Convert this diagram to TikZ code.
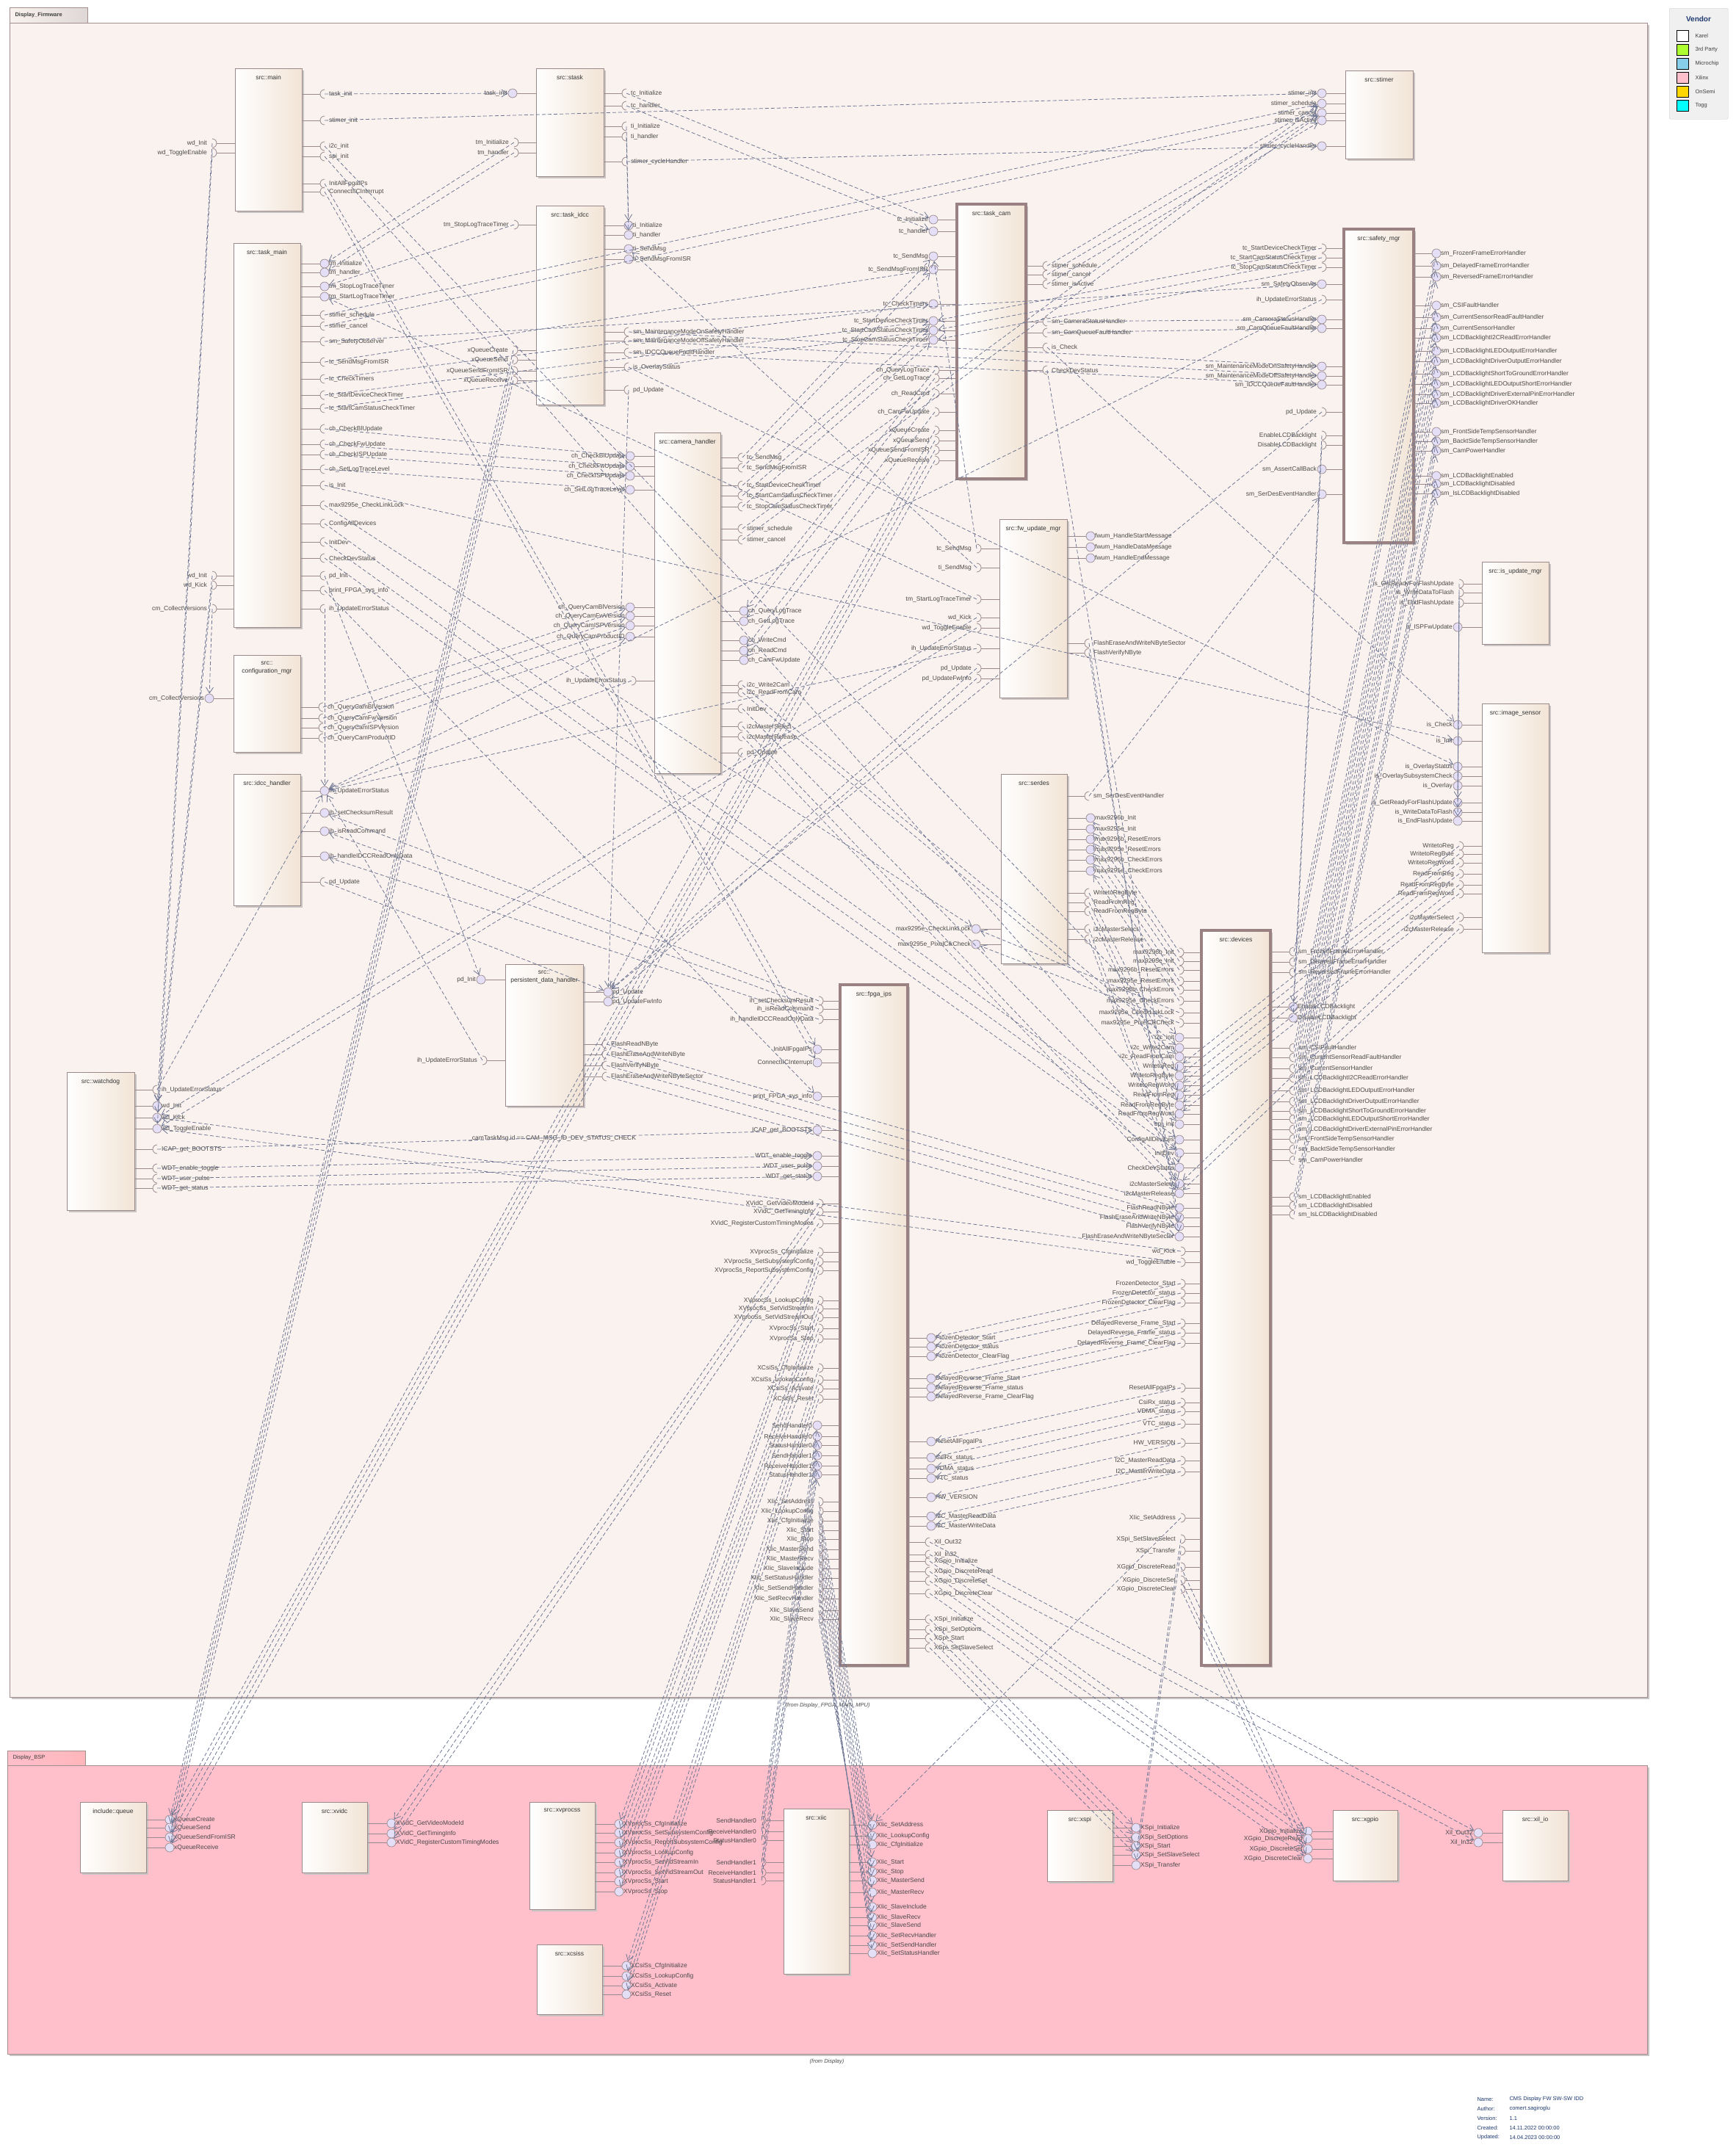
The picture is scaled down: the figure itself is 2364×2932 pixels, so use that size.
\documentclass[tikz,border=0pt]{standalone}
\usepackage{fontspec}
\setmainfont{Liberation Sans}
\usetikzlibrary{arrows.meta,calc}
\definecolor{cbord}{HTML}{9C8A8A}
\definecolor{cthick}{HTML}{9A8282}
\definecolor{cbeige}{HTML}{F2E4D6}
\definecolor{cprov}{HTML}{E4DFF6}
\definecolor{cport}{HTML}{9A8A8E}
\definecolor{cconn}{HTML}{6F7794}
\definecolor{ctext}{HTML}{4A4A4A}
\definecolor{fwbg}{HTML}{FAF2EE}
\definecolor{bspbg}{HTML}{FFBFCB}
\definecolor{pkgb}{HTML}{A38E8E}
\definecolor{shadowc}{HTML}{C8C4C4}
\definecolor{infoc}{HTML}{1F3A70}
\tikzset{
 comp/.style={draw=cbord, line width=0.8pt, left color=white, right color=cbeige, outer sep=0pt, inner sep=0pt},
 compthick/.style={comp, draw=cthick, line width=4.5pt},
 ctitle/.style={font=\fontsize{8.5}{11}\selectfont, text=black!80, anchor=north, align=center, inner sep=0pt},
 prov/.style={circle, draw=cport, fill=cprov, minimum size=12pt, inner sep=0pt, line width=0.7pt},
 pline/.style={draw=cport, line width=0.7pt},
 sock/.style={draw=cport, line width=0.8pt},
 lab/.style={font=\fontsize{8.5}{10}\selectfont, text=ctext, inner sep=0pt},
 conn/.style={draw=cconn, line width=0.8pt, dash pattern=on 5pt off 3pt, -{Straight Barb[length=8pt,width=10pt]}},
}
\makeatletter
\newcommand\conns{}
\newcommand\Pt[4]{%
  \ifdim #3pt>#2pt
    \draw[pline] (#2,#4) -- (#3-6,#4);
    \node[prov] (P-#1) at (#3,#4) {};
    \node[lab,anchor=west] (L-P-#1) at (#3+6,#4) {\detokenize{#1}};
  \else
    \draw[pline] (#3+6,#4) -- (#2,#4);
    \node[prov] (P-#1) at (#3,#4) {};
    \node[lab,anchor=east] (L-P-#1) at (#3-7,#4) {\detokenize{#1}};
  \fi}
\newcommand\Rq[5]{%
  \ifdim #4pt>#3pt
    \draw[pline] (#3,#5) -- (#4-6,#5);
    \draw[sock] (#4,#5-6) arc[start angle=90,end angle=270,radius=6pt];
    \coordinate (#1-#2) at (#4,#5);
    \node[lab,anchor=west] (L-#1-#2) at (#4+6,#5) {\detokenize{#2}};
  \else
    \draw[pline] (#4+6,#5) -- (#3,#5);
    \draw[sock] (#4,#5-6) arc[start angle=90,end angle=-90,radius=6pt];
    \coordinate (#1-#2) at (#4,#5);
    \node[lab,anchor=east] (L-#1-#2) at (#4-7,#5) {\detokenize{#2}};
  \fi
  \xdef\conns{\unexpanded\expandafter{\conns}\noexpand\Cn{#1-#2}{#2}}}
\newcommand\Cn[2]{\ifcsname pgf@sh@ns@P-#2\endcsname \draw[conn] (#1) -- (P-#2);\fi}
\makeatother
\newcommand\Comp[7]{%
  \fill[shadowc] (#3+3,#4+3) rectangle (#5+3,#6+3);
  \pgfmathsetmacro\cmpw{#5-#3}\pgfmathsetmacro\cmph{#6-#4}%
  \node[#1, minimum width=\cmpw pt, minimum height=\cmph pt, anchor=north west] (#2) at (#3,#4) {};
  \node[ctitle] (#2-t) at ({(#3+#5)/2},#4+9) {#7};}
\begin{document}
\begin{tikzpicture}[x=1pt,y=-1pt]
\useasboundingbox (0,0) rectangle (2364,2932);
\fill[white] (0,0) rectangle (2364,2932);
% ---------- packages
\fill[shadowc] (16,34) rectangle (2246,2314);
\node[draw=pkgb, left color=fwbg, right color=pkgb!35, minimum width=106pt, minimum height=21pt, anchor=north west, outer sep=0pt] (fwtab) at (13,10) {};
\node[font=\bfseries\fontsize{7.5}{9}\selectfont, text=black!75, anchor=west] (fwtabt) at (17,20.5) {Display\_Firmware};
\node[draw=pkgb, fill=fwbg, minimum width=2230pt, minimum height=2280pt, anchor=north west, outer sep=0pt] (fw) at (13,31) {};
\node[font=\itshape\fontsize{7.5}{9}\selectfont, text=black!70] (fwfrom) at (1127,2323) {(from Display\_FPGA\_MAIN\_MPU)};
\fill[shadowc] (13,2407) rectangle (2246,2800);
\node[draw=pkgb, left color=bspbg, right color=bspbg!70!red!60, minimum width=106pt, minimum height=20pt, anchor=north west, outer sep=0pt] (bsptab) at (10,2384) {};
\node[font=\fontsize{7.5}{9}\selectfont, text=black!75, anchor=west] (bsptabt) at (14,2394) {Display\_BSP};
\node[draw=pkgb, fill=bspbg, minimum width=2233pt, minimum height=393pt, anchor=north west, outer sep=0pt] (bsp) at (10,2404) {};
\node[font=\itshape\fontsize{7.5}{9}\selectfont, text=black!70] (bspfrom) at (1126,2808) {(from Display)};
% ---------- legend
\node[draw=black!20, fill=black!6, rounded corners=2pt, minimum width=80pt, minimum height=151pt, anchor=north west] (legend) at (2273,11) {};
\node[font=\bfseries\fontsize{10}{12}\selectfont, text=infoc] (legt) at (2313,26) {Vendor};
\foreach \c/\t [count=\i] in {white/Karel, {rgb,255:red,173;green,255;blue,47}/3rd Party, {rgb,255:red,135;green,206;blue,235}/Microchip, {rgb,255:red,255;green,192;blue,203}/Xilinx, {rgb,255:red,255;green,215;blue,0}/OnSemi, {rgb,255:red,0;green,255;blue,255}/Togg}{
  \node[draw=black, fill={\c}, minimum width=16pt, minimum height=15pt, inner sep=0pt] (lk\i) at (2291,30+19*\i) {};
  \node[font=\fontsize{7.5}{9}\selectfont, text=black!75, anchor=west] (lt\i) at (2305,30+19*\i) {\t};
}
% ---------- info
\foreach \k/\v [count=\i] in {Name:/CMS Display FW SW-SW IDD, Author:/comert.sagiroglu, Version:/1.1, Created:/14.11.2022 00:00:00, Updated:/14.04.2023 00:00:00}{
  \node[font=\fontsize{7.5}{9}\selectfont, text=infoc, anchor=west] (ik\i) at (2008,2846+13*\i) {\k};
  \node[font=\fontsize{7.5}{9}\selectfont, text=infoc, anchor=west] (iv\i) at (2052,2846+13*\i) {\v};
}
% ---------- components
\Comp{comp}{main}{320}{93}{411}{287}{src::main}
\Comp{comp}{tmain}{318}{331}{409}{854}{src::task\_main}
\Comp{comp}{stask}{730}{93}{822}{240}{src::stask}
\Comp{comp}{tidcc}{730}{280}{822}{551}{src::task\_idcc}
\Comp{comp}{camh}{891}{589}{981}{1053}{src::camera\_handler}
\Comp{compthick}{tcam}{1303}{278}{1397}{652}{src::task\_cam}
\Comp{comp}{stimer}{1832}{96}{1924}{216}{src::stimer}
\Comp{compthick}{safety}{1830}{312}{1925}{739}{src::safety\_mgr}
\Comp{comp}{isu}{2018}{765}{2109}{877}{src::is\_update\_mgr}
\Comp{comp}{isen}{2018}{958}{2109}{1297}{src::image\_sensor}
\Comp{comp}{fwum}{1361}{707}{1453}{950}{src::fw\_update\_mgr}
\Comp{comp}{cfg}{318}{892}{409}{1024}{src::\\configuration\_mgr}
\Comp{comp}{idcch}{318}{1054}{409}{1233}{src::idcc\_handler}
\Comp{comp}{pdh}{688}{1313}{794}{1506}{src::\\persistent\_data\_handler}
\Comp{comp}{wdog}{91}{1460}{183}{1648}{src::watchdog}
\Comp{comp}{serdes}{1363}{1054}{1453}{1312}{src::serdes}
\Comp{compthick}{dev}{1636}{1267}{1730}{2268}{src::devices}
\Comp{compthick}{fpga}{1144}{1341}{1236}{2268}{src::fpga\_ips}
\Comp{comp}{queue}{109}{2454}{199}{2550}{include::queue}
\Comp{comp}{xvidc}{411}{2454}{500}{2550}{src::xvidc}
\Comp{comp}{xvprocss}{721}{2454}{810}{2600}{src::xvprocss}
\Comp{comp}{xcsiss}{731}{2648}{820}{2743}{src::xcsiss}
\Comp{comp}{xiic}{1067}{2463}{1156}{2688}{src::xiic}
\Comp{comp}{xspi}{1426}{2465}{1515}{2562}{src::xspi}
\Comp{comp}{xgpio}{1815}{2465}{1903}{2561}{src::xgpio}
\Comp{comp}{xilio}{2046}{2465}{2135}{2561}{src::xil\_io}
% ---------- ports: main
\Rq{main}{task_init}{411}{442}{128}
\Rq{main}{stimer_init}{411}{442}{164}
\Rq{main}{i2c_init}{411}{442}{199}
\Rq{main}{spi_init}{411}{442}{213}
\Rq{main}{InitAllFpgaIPs}{411}{442}{250}
\Rq{main}{ConnectIICInterrupt}{411}{442}{261}
\Rq{main}{wd_Init}{320}{289}{195}
\Rq{main}{wd_ToggleEnable}{320}{289}{208}
% task_main
\Pt{tm_Initialize}{409}{442}{359}
\Pt{tm_handler}{409}{442}{371}
\Pt{tm_StopLogTraceTimer}{409}{442}{390}
\Pt{tm_StartLogTraceTimer}{409}{442}{404}
\Rq{tmain}{stimer_schedule}{409}{442}{429}
\Rq{tmain}{stimer_cancel}{409}{442}{444}
\Rq{tmain}{sm_SafetyObserver}{409}{442}{465}
\Rq{tmain}{tc_SendMsgFromISR}{409}{442}{493}
\Rq{tmain}{tc_CheckTimers}{409}{442}{516}
\Rq{tmain}{tc_StartDeviceCheckTimer}{409}{442}{538}
\Rq{tmain}{tc_StartCamStatusCheckTimer}{409}{442}{556}
\Rq{tmain}{ch_CheckBlUpdate}{409}{442}{584}
\Rq{tmain}{ch_CheckFwUpdate}{409}{442}{605}
\Rq{tmain}{ch_CheckISPUpdate}{409}{442}{619}
\Rq{tmain}{ch_SetLogTraceLevel}{409}{442}{639}
\Rq{tmain}{is_Init}{409}{442}{661}
\Rq{tmain}{max9295e_CheckLinkLock}{409}{442}{688}
\Rq{tmain}{ConfigAllDevices}{409}{442}{713}
\Rq{tmain}{InitDev}{409}{442}{738}
\Rq{tmain}{CheckDevStatus}{409}{442}{760}
\Rq{tmain}{pd_Init}{409}{442}{784}
\Rq{tmain}{print_FPGA_sys_info}{409}{442}{804}
\Rq{tmain}{ih_UpdateErrorStatus}{409}{442}{829}
\Rq{tmain}{wd_Init}{318}{289}{784}
\Rq{tmain}{wd_Kick}{318}{289}{797}
\Rq{tmain}{cm_CollectVersions}{318}{289}{829}
% stask
\Pt{task_init}{730}{698}{127}
\Rq{stask}{tm_Initialize}{730}{700}{194}
\Rq{stask}{tm_handler}{730}{700}{208}
\Rq{stask}{tc_Initialize}{822}{853}{127}
\Rq{stask}{tc_handler}{822}{853}{144}
\Rq{stask}{ti_Initialize}{822}{853}{172}
\Rq{stask}{ti_handler}{822}{853}{186}
\Rq{stask}{stimer_cycleHandler}{822}{853}{220}
% task_idcc
\Rq{tidcc}{tm_StopLogTraceTimer}{730}{700}{306}
\Rq{tidcc}{xQueueCreate}{730}{699}{477}
\Rq{tidcc}{xQueueSend}{730}{699}{490}
\Rq{tidcc}{xQueueSendFromISR}{730}{699}{505}
\Rq{tidcc}{xQueueReceive}{730}{699}{518}
\Pt{ti_Initialize}{822}{856}{307}
\Pt{ti_handler}{822}{856}{320}
\Pt{ti_SendMsg}{822}{856}{339}
\Pt{ti_SendMsgFromISR}{822}{856}{353}
\Rq{tidcc}{sm_MaintenanceModeOnSafetyHandler}{822}{856}{452}
\Rq{tidcc}{sm_MaintenanceModeOffSafetyHandler}{822}{856}{464}
\Rq{tidcc}{sm_IDCCQueueFaultHandler}{822}{856}{480}
\Rq{tidcc}{is_OverlayStatus}{822}{856}{500}
\Rq{tidcc}{pd_Update}{822}{856}{531}
% camera_handler
\Pt{ch_CheckBlUpdate}{891}{858}{621}
\Pt{ch_CheckFwUpdate}{891}{858}{635}
\Pt{ch_CheckISPUpdate}{891}{858}{648}
\Pt{ch_SetLogTraceLevel}{891}{858}{667}
\Pt{ch_QueryCamBlVersion}{891}{858}{827}
\Pt{ch_QueryCamFwVersion}{891}{858}{839}
\Pt{ch_QueryCamISPVersion}{891}{858}{852}
\Pt{ch_QueryCamProductID}{891}{858}{867}
\Rq{camh}{ih_UpdateErrorStatus}{891}{860}{927}
\Rq{camh}{tc_SendMsg}{981}{1011}{623}
\Rq{camh}{tc_SendMsgFromISR}{981}{1011}{637}
\Rq{camh}{tc_StartDeviceCheckTimer}{981}{1011}{661}
\Rq{camh}{tc_StartCamStatusCheckTimer}{981}{1011}{675}
\Rq{camh}{tc_StopCamStatusCheckTimer}{981}{1011}{690}
\Rq{camh}{stimer_schedule}{981}{1011}{720}
\Rq{camh}{stimer_cancel}{981}{1011}{735}
\Pt{ch_QueryLogTrace}{981}{1013}{832}
\Pt{ch_GetLogTrace}{981}{1013}{846}
\Pt{ch_WriteCmd}{981}{1013}{872}
\Pt{ch_ReadCmd}{981}{1013}{886}
\Pt{ch_CamFwUpdate}{981}{1013}{899}
\Rq{camh}{i2c_Write2Cam}{981}{1011}{933}
\Rq{camh}{i2c_ReadFromCam}{981}{1011}{943}
\Rq{camh}{InitDev}{981}{1011}{965}
\Rq{camh}{i2cMasterSelect}{981}{1011}{989}
\Rq{camh}{i2cMasterRelease}{981}{1011}{1003}
\Rq{camh}{pd_Update}{981}{1011}{1025}
% task_cam
\Pt{tc_Initialize}{1303}{1271}{299}
\Pt{tc_handler}{1303}{1271}{315}
\Pt{tc_SendMsg}{1303}{1271}{349}
\Pt{tc_SendMsgFromISR}{1303}{1271}{367}
\Pt{tc_CheckTimers}{1303}{1271}{414}
\Pt{tc_StartDeviceCheckTimer}{1303}{1271}{437}
\Pt{tc_StartCamStatusCheckTimer}{1303}{1271}{450}
\Pt{tc_StopCamStatusCheckTimer}{1303}{1271}{463}
\Rq{tcam}{ch_QueryLogTrace}{1303}{1273}{504}
\Rq{tcam}{ch_GetLogTrace}{1303}{1273}{515}
\Rq{tcam}{ch_ReadCmd}{1303}{1273}{536}
\Rq{tcam}{ch_CamFwUpdate}{1303}{1273}{561}
\Rq{tcam}{xQueueCreate}{1303}{1273}{586}
\Rq{tcam}{xQueueSend}{1303}{1273}{600}
\Rq{tcam}{xQueueSendFromISR}{1303}{1273}{613}
\Rq{tcam}{xQueueReceive}{1303}{1273}{627}
\Rq{tcam}{stimer_schedule}{1397}{1426}{362}
\Rq{tcam}{stimer_cancel}{1397}{1426}{374}
\Rq{tcam}{stimer_isActive}{1397}{1426}{387}
\Rq{tcam}{sm_CameraStatusHandler}{1397}{1426}{438}
\Rq{tcam}{sm_CamQueueFaultHandler}{1397}{1426}{453}
\Rq{tcam}{is_Check}{1397}{1426}{473}
\Rq{tcam}{CheckDevStatus}{1397}{1426}{504}
% stimer
\Pt{stimer_init}{1832}{1800}{127}
\Pt{stimer_schedule}{1832}{1800}{141}
\Pt{stimer_cancel}{1832}{1800}{154}
\Pt{stimer_isActive}{1832}{1800}{164}
\Pt{stimer_cycleHandler}{1832}{1800}{199}
% safety_mgr
\Rq{safety}{tc_StartDeviceCheckTimer}{1830}{1800}{338}
\Rq{safety}{tc_StartCamStatusCheckTimer}{1830}{1800}{351}
\Rq{safety}{tc_StopCamStatusCheckTimer}{1830}{1800}{364}
\Pt{sm_SafetyObserver}{1830}{1800}{387}
\Rq{safety}{ih_UpdateErrorStatus}{1830}{1800}{408}
\Pt{sm_CameraStatusHandler}{1830}{1800}{435}
\Pt{sm_CamQueueFaultHandler}{1830}{1800}{447}
\Pt{sm_MaintenanceModeOnSafetyHandler}{1830}{1800}{499}
\Pt{sm_MaintenanceModeOffSafetyHandler}{1830}{1800}{512}
\Pt{sm_IDCCQueueFaultHandler}{1830}{1800}{524}
\Rq{safety}{pd_Update}{1830}{1800}{561}
\Rq{safety}{EnableLCDBacklight}{1830}{1800}{593}
\Rq{safety}{DisableLCDBacklight}{1830}{1800}{606}
\Pt{sm_AssertCallBack}{1830}{1800}{639}
\Pt{sm_SerDesEventHandler}{1830}{1800}{673}
\Pt{sm_FrozenFrameErrorHandler}{1925}{1956}{345}
\Pt{sm_DelayedFrameErrorHandler}{1925}{1956}{362}
\Pt{sm_ReversedFrameErrorHandler}{1925}{1956}{377}
\Pt{sm_CSIFaultHandler}{1925}{1956}{416}
\Pt{sm_CurrentSensorReadFaultHandler}{1925}{1956}{432}
\Pt{sm_CurrentSensorHandler}{1925}{1956}{447}
\Pt{sm_LCDBacklightI2CReadErrorHandler}{1925}{1956}{460}
\Pt{sm_LCDBacklightLEDOutputErrorHandler}{1925}{1956}{478}
\Pt{sm_LCDBacklightDriverOutputErrorHandler}{1925}{1956}{492}
\Pt{sm_LCDBacklightShortToGroundErrorHandler}{1925}{1956}{509}
\Pt{sm_LCDBacklightLEDOutputShortErrorHandler}{1925}{1956}{523}
\Pt{sm_LCDBacklightDriverExternalPinErrorHandler}{1925}{1956}{537}
\Pt{sm_LCDBacklightDriverOKHandler}{1925}{1956}{549}
\Pt{sm_FrontSideTempSensorHandler}{1925}{1956}{588}
\Pt{sm_BacktSideTempSensorHandler}{1925}{1956}{601}
\Pt{sm_CamPowerHandler}{1925}{1956}{614}
\Pt{sm_LCDBacklightEnabled}{1925}{1956}{648}
\Pt{sm_LCDBacklightDisabled}{1925}{1956}{659}
\Pt{sm_IsLCDBacklightDisabled}{1925}{1956}{672}
% is_update_mgr
\Rq{isu}{is_GetReadyForFlashUpdate}{2018}{1987}{795}
\Rq{isu}{is_WriteDataToFlash}{2018}{1987}{807}
\Rq{isu}{is_EndFlashUpdate}{2018}{1987}{821}
\Pt{is_ISPFwUpdate}{2018}{1985}{854}
% image_sensor
\Pt{is_Check}{2018}{1985}{987}
\Pt{is_Init}{2018}{1985}{1009}
\Pt{is_OverlayStatus}{2018}{1985}{1044}
\Pt{is_OverlaySubsystemCheck}{2018}{1985}{1057}
\Pt{is_Overlay}{2018}{1985}{1070}
\Pt{is_GetReadyForFlashUpdate}{2018}{1985}{1093}
\Pt{is_WriteDataToFlash}{2018}{1985}{1106}
\Pt{is_EndFlashUpdate}{2018}{1985}{1118}
\Rq{isen}{WritetoReg}{2018}{1987}{1152}
\Rq{isen}{WritetoRegByte}{2018}{1987}{1163}
\Rq{isen}{WritetoRegWord}{2018}{1987}{1175}
\Rq{isen}{ReadFromReg}{2018}{1987}{1190}
\Rq{isen}{ReadFromRegByte}{2018}{1987}{1205}
\Rq{isen}{ReadFromRegWord}{2018}{1987}{1217}
\Rq{isen}{i2cMasterSelect}{2018}{1987}{1249}
\Rq{isen}{i2cMasterRelease}{2018}{1987}{1265}
% fw_update_mgr
\Rq{fwum}{tc_SendMsg}{1361}{1330}{747}
\Rq{fwum}{ti_SendMsg}{1361}{1330}{773}
\Rq{fwum}{tm_StartLogTraceTimer}{1361}{1330}{816}
\Rq{fwum}{wd_Kick}{1361}{1330}{841}
\Rq{fwum}{wd_ToggleEnable}{1361}{1330}{855}
\Rq{fwum}{ih_UpdateErrorStatus}{1361}{1330}{883}
\Rq{fwum}{pd_Update}{1361}{1330}{910}
\Rq{fwum}{pd_UpdateFwInfo}{1361}{1330}{924}
\Pt{fwum_HandleStartMessage}{1453}{1485}{730}
\Pt{fwum_HandleDataMessage}{1453}{1485}{745}
\Pt{fwum_HandleEndMessage}{1453}{1485}{760}
\Rq{fwum}{FlashEraseAndWriteNByteSector}{1453}{1483}{876}
\Rq{fwum}{FlashVerifyNByte}{1453}{1483}{889}
% configuration_mgr
\Pt{cm_CollectVersions}{318}{285}{951}
\Rq{cfg}{ch_QueryCamBlVersion}{409}{440}{963}
\Rq{cfg}{ch_QueryCamFwVersion}{409}{440}{978}
\Rq{cfg}{ch_QueryCamISPVersion}{409}{440}{991}
\Rq{cfg}{ch_QueryCamProductID}{409}{440}{1005}
% idcc_handler
\Pt{ih_UpdateErrorStatus}{409}{442}{1077}
\Pt{ih_setChecksumResult}{409}{442}{1107}
\Pt{ih_isReadCommand}{409}{442}{1132}
\Pt{ih_handleIDCCReadOnlyData}{409}{442}{1166}
\Rq{idcch}{pd_Update}{409}{442}{1201}
% persistent_data_handler
\Pt{pd_Init}{688}{655}{1334}
\Rq{pdh}{ih_UpdateErrorStatus}{688}{657}{1444}
\Pt{pd_Update}{794}{828}{1351}
\Pt{pd_UpdateFwInfo}{794}{828}{1364}
\Rq{pdh}{FlashReadNByte}{794}{826}{1422}
\Rq{pdh}{FlashEraseAndWriteNByte}{794}{826}{1436}
\Rq{pdh}{FlashVerifyNByte}{794}{826}{1451}
\Rq{pdh}{FlashEraseAndWriteNByteSector}{794}{826}{1466}
% watchdog
\Rq{wdog}{ih_UpdateErrorStatus}{183}{214}{1484}
\Pt{wd_Init}{183}{214}{1506}
\Pt{wd_Kick}{183}{214}{1522}
\Pt{wd_ToggleEnable}{183}{214}{1537}
\Rq{wdog}{ICAP_get_BOOTSTS}{183}{214}{1565}
\Rq{wdog}{WDT_enable_toggle}{183}{214}{1591}
\Rq{wdog}{WDT_user_pulse}{183}{214}{1605}
\Rq{wdog}{WDT_get_status}{183}{214}{1618}
% serdes
\Pt{max9295e_CheckLinkLock}{1363}{1329}{1265}
\Pt{max9295e_PixelClkCheck}{1363}{1329}{1286}
\Rq{serdes}{sm_SerDesEventHandler}{1453}{1483}{1084}
\Pt{max9296b_Init}{1453}{1485}{1114}
\Pt{max9295e_Init}{1453}{1485}{1129}
\Pt{max9296b_ResetErrors}{1453}{1485}{1143}
\Pt{max9295e_ResetErrors}{1453}{1485}{1157}
\Pt{max9296b_CheckErrors}{1453}{1485}{1171}
\Pt{max9295e_CheckErrors}{1453}{1485}{1186}
\Rq{serdes}{WritetoRegByte}{1453}{1483}{1216}
\Rq{serdes}{ReadFromReg}{1453}{1483}{1229}
\Rq{serdes}{ReadFromRegByte}{1453}{1483}{1241}
\Rq{serdes}{i2cMasterSelect}{1453}{1483}{1265}
\Rq{serdes}{i2cMasterRelease}{1453}{1483}{1279}
% devices
\Rq{dev}{max9296b_Init}{1636}{1606}{1297}
\Rq{dev}{max9295e_Init}{1636}{1606}{1309}
\Rq{dev}{max9296b_ResetErrors}{1636}{1606}{1321}
\Rq{dev}{max9295e_ResetErrors}{1636}{1606}{1336}
\Rq{dev}{max9296b_CheckErrors}{1636}{1606}{1348}
\Rq{dev}{max9295e_CheckErrors}{1636}{1606}{1363}
\Rq{dev}{max9295e_CheckLinkLock}{1636}{1606}{1379}
\Rq{dev}{max9295e_PixelClkCheck}{1636}{1606}{1393}
\Pt{i2c_init}{1636}{1606}{1413}
\Pt{i2c_Write2Cam}{1636}{1606}{1427}
\Pt{i2c_ReadFromCam}{1636}{1606}{1439}
\Pt{WritetoReg}{1636}{1606}{1452}
\Pt{WritetoRegByte}{1636}{1606}{1465}
\Pt{WritetoRegWord}{1636}{1606}{1478}
\Pt{ReadFromReg}{1636}{1606}{1491}
\Pt{ReadFromRegByte}{1636}{1606}{1505}
\Pt{ReadFromRegWord}{1636}{1606}{1517}
\Pt{spi_init}{1636}{1606}{1531}
\Pt{ConfigAllDevices}{1636}{1606}{1552}
\Pt{InitDev}{1636}{1606}{1570}
\Pt{CheckDevStatus}{1636}{1606}{1590}
\Pt{i2cMasterSelect}{1636}{1606}{1612}
\Pt{i2cMasterRelease}{1636}{1606}{1625}
\Pt{FlashReadNByte}{1636}{1606}{1645}
\Pt{FlashEraseAndWriteNByte}{1636}{1606}{1658}
\Pt{FlashVerifyNByte}{1636}{1606}{1670}
\Pt{FlashEraseAndWriteNByteSector}{1636}{1606}{1684}
\Rq{dev}{wd_Kick}{1636}{1608}{1704}
\Rq{dev}{wd_ToggleEnable}{1636}{1608}{1719}
\Rq{dev}{FrozenDetector_Start}{1636}{1608}{1748}
\Rq{dev}{FrozenDetector_status}{1636}{1608}{1761}
\Rq{dev}{FrozenDetector_ClearFlag}{1636}{1608}{1774}
\Rq{dev}{DelayedReverse_Frame_Start}{1636}{1608}{1802}
\Rq{dev}{DelayedReverse_Frame_status}{1636}{1608}{1815}
\Rq{dev}{DelayedReverse_Frame_ClearFlag}{1636}{1608}{1829}
\Rq{dev}{ResetAllFpgaIPs}{1636}{1608}{1890}
\Rq{dev}{CsiRx_status}{1636}{1608}{1910}
\Rq{dev}{VDMA_status}{1636}{1608}{1922}
\Rq{dev}{VTC_status}{1636}{1608}{1939}
\Rq{dev}{HW_VERSION}{1636}{1608}{1965}
\Rq{dev}{I2C_MasterReadData}{1636}{1608}{1989}
\Rq{dev}{I2C_MasterWriteData}{1636}{1608}{2004}
\Rq{dev}{XIic_SetAddress}{1636}{1608}{2067}
\Rq{dev}{XSpi_SetSlaveSelect}{1636}{1608}{2096}
\Rq{dev}{XSpi_Transfer}{1636}{1608}{2112}
\Rq{dev}{XGpio_DiscreteRead}{1636}{1608}{2134}
\Rq{dev}{XGpio_DiscreteSet}{1636}{1608}{2152}
\Rq{dev}{XGpio_DiscreteClear}{1636}{1608}{2164}
\Rq{dev}{sm_FrozenFrameErrorHandler}{1730}{1762}{1296}
\Rq{dev}{sm_DelayedFrameErrorHandler}{1730}{1762}{1310}
\Rq{dev}{sm_ReversedFrameErrorHandler}{1730}{1762}{1324}
\Pt{EnableLCDBacklight}{1730}{1761}{1371}
\Pt{DisableLCDBacklight}{1730}{1761}{1386}
\Rq{dev}{sm_CSIFaultHandler}{1730}{1762}{1427}
\Rq{dev}{sm_CurrentSensorReadFaultHandler}{1730}{1762}{1440}
\Rq{dev}{sm_CurrentSensorHandler}{1730}{1762}{1455}
\Rq{dev}{sm_LCDBacklightI2CReadErrorHandler}{1730}{1762}{1468}
\Rq{dev}{sm_LCDBacklightLEDOutputErrorHandler}{1730}{1762}{1485}
\Rq{dev}{sm_LCDBacklightDriverOutputErrorHandler}{1730}{1762}{1500}
\Rq{dev}{sm_LCDBacklightShortToGroundErrorHandler}{1730}{1762}{1513}
\Rq{dev}{sm_LCDBacklightLEDOutputShortErrorHandler}{1730}{1762}{1524}
\Rq{dev}{sm_LCDBacklightDriverExternalPinErrorHandler}{1730}{1762}{1538}
\Rq{dev}{sm_FrontSideTempSensorHandler}{1730}{1762}{1551}
\Rq{dev}{sm_BacktSideTempSensorHandler}{1730}{1762}{1565}
\Rq{dev}{sm_CamPowerHandler}{1730}{1762}{1580}
\Rq{dev}{sm_LCDBacklightEnabled}{1730}{1762}{1630}
\Rq{dev}{sm_LCDBacklightDisabled}{1730}{1762}{1642}
\Rq{dev}{sm_IsLCDBacklightDisabled}{1730}{1762}{1654}
% fpga_ips
\Rq{fpga}{ih_setChecksumResult}{1144}{1115}{1363}
\Rq{fpga}{ih_isReadCommand}{1144}{1115}{1374}
\Rq{fpga}{ih_handleIDCCReadOnlyData}{1144}{1115}{1388}
\Pt{InitAllFpgaIPs}{1144}{1113}{1429}
\Pt{ConnectIICInterrupt}{1144}{1113}{1447}
\Pt{print_FPGA_sys_info}{1144}{1113}{1493}
\Pt{ICAP_get_BOOTSTS}{1144}{1113}{1539}
\Pt{WDT_enable_toggle}{1144}{1113}{1574}
\Pt{WDT_user_pulse}{1144}{1113}{1588}
\Pt{WDT_get_status}{1144}{1113}{1602}
\Rq{fpga}{XVidC_GetVideoModeId}{1144}{1115}{1639}
\Rq{fpga}{XVidC_GetTimingInfo}{1144}{1115}{1650}
\Rq{fpga}{XVidC_RegisterCustomTimingModes}{1144}{1115}{1666}
\Rq{fpga}{XVprocSs_CfgInitialize}{1144}{1115}{1705}
\Rq{fpga}{XVprocSs_SetSubsystemConfig}{1144}{1115}{1718}
\Rq{fpga}{XVprocSs_ReportSubsystemConfig}{1144}{1115}{1730}
\Rq{fpga}{XVprocSs_LookupConfig}{1144}{1115}{1771}
\Rq{fpga}{XVprocSs_SetVidStreamIn}{1144}{1115}{1782}
\Rq{fpga}{XVprocSs_SetVidStreamOut}{1144}{1115}{1794}
\Rq{fpga}{XVprocSs_Start}{1144}{1115}{1809}
\Rq{fpga}{XVprocSs_Stop}{1144}{1115}{1823}
\Rq{fpga}{XCsiSs_CfgInitialize}{1144}{1115}{1863}
\Rq{fpga}{XCsiSs_LookupConfig}{1144}{1115}{1879}
\Rq{fpga}{XCsiSs_Activate}{1144}{1115}{1891}
\Rq{fpga}{XCsiSs_Reset}{1144}{1115}{1905}
\Pt{SendHandler0}{1144}{1113}{1941}
\Pt{ReceiveHandler0}{1144}{1113}{1956}
\Pt{StatusHandler0}{1144}{1113}{1968}
\Pt{SendHandler1}{1144}{1113}{1982}
\Pt{ReceiveHandler1}{1144}{1113}{1996}
\Pt{StatusHandler1}{1144}{1113}{2008}
\Rq{fpga}{XIic_SetAddress}{1144}{1115}{2045}
\Rq{fpga}{XIic_LookupConfig}{1144}{1115}{2058}
\Rq{fpga}{XIic_CfgInitialize}{1144}{1115}{2071}
\Rq{fpga}{XIic_Start}{1144}{1115}{2084}
\Rq{fpga}{XIic_Stop}{1144}{1115}{2096}
\Rq{fpga}{XIic_MasterSend}{1144}{1115}{2110}
\Rq{fpga}{XIic_MasterRecv}{1144}{1115}{2123}
\Rq{fpga}{XIic_SlaveInclude}{1144}{1115}{2136}
\Rq{fpga}{XIic_SetStatusHandler}{1144}{1115}{2149}
\Rq{fpga}{XIic_SetSendHandler}{1144}{1115}{2163}
\Rq{fpga}{XIic_SetRecvHandler}{1144}{1115}{2177}
\Rq{fpga}{XIic_SlaveSend}{1144}{1115}{2193}
\Rq{fpga}{XIic_SlaveRecv}{1144}{1115}{2205}
\Pt{FrozenDetector_Start}{1236}{1268}{1822}
\Pt{FrozenDetector_status}{1236}{1268}{1834}
\Pt{FrozenDetector_ClearFlag}{1236}{1268}{1847}
\Pt{DelayedReverse_Frame_Start}{1236}{1268}{1877}
\Pt{DelayedReverse_Frame_status}{1236}{1268}{1890}
\Pt{DelayedReverse_Frame_ClearFlag}{1236}{1268}{1902}
\Pt{ResetAllFpgaIPs}{1236}{1268}{1963}
\Pt{CsiRx_status}{1236}{1268}{1985}
\Pt{VDMA_status}{1236}{1268}{2000}
\Pt{VTC_status}{1236}{1268}{2013}
\Pt{HW_VERSION}{1236}{1268}{2039}
\Pt{I2C_MasterReadData}{1236}{1268}{2065}
\Pt{I2C_MasterWriteData}{1236}{1268}{2078}
\Rq{fpga}{Xil_Out32}{1236}{1266}{2100}
\Rq{fpga}{Xil_In32}{1236}{1266}{2117}
\Rq{fpga}{XGpio_Initialize}{1236}{1266}{2126}
\Rq{fpga}{XGpio_DiscreteRead}{1236}{1266}{2140}
\Rq{fpga}{XGpio_DiscreteSet}{1236}{1266}{2153}
\Rq{fpga}{XGpio_DiscreteClear}{1236}{1266}{2170}
\Rq{fpga}{XSpi_Initialize}{1236}{1266}{2205}
\Rq{fpga}{XSpi_SetOptions}{1236}{1266}{2219}
\Rq{fpga}{XSpi_Start}{1236}{1266}{2231}
\Rq{fpga}{XSpi_SetSlaveSelect}{1236}{1266}{2244}
% BSP
\Pt{xQueueCreate}{199}{231}{2478}
\Pt{xQueueSend}{199}{231}{2489}
\Pt{xQueueSendFromISR}{199}{231}{2502}
\Pt{xQueueReceive}{199}{231}{2516}
\Pt{XVidC_GetVideoModeId}{500}{533}{2483}
\Pt{XVidC_GetTimingInfo}{500}{533}{2497}
\Pt{XVidC_RegisterCustomTimingModes}{500}{533}{2509}
\Pt{XVprocSs_CfgInitialize}{810}{843}{2484}
\Pt{XVprocSs_SetSubsystemConfig}{810}{843}{2496}
\Pt{XVprocSs_ReportSubsystemConfig}{810}{843}{2509}
\Pt{XVprocSs_LookupConfig}{810}{843}{2523}
\Pt{XVprocSs_SetVidStreamIn}{810}{843}{2536}
\Pt{XVprocSs_SetVidStreamOut}{810}{843}{2550}
\Pt{XVprocSs_Start}{810}{843}{2562}
\Pt{XVprocSs_Stop}{810}{843}{2576}
\Pt{XCsiSs_CfgInitialize}{820}{853}{2677}
\Pt{XCsiSs_LookupConfig}{820}{853}{2691}
\Pt{XCsiSs_Activate}{820}{853}{2704}
\Pt{XCsiSs_Reset}{820}{853}{2716}
\Rq{xiic}{SendHandler0}{1067}{1037}{2479}
\Rq{xiic}{ReceiveHandler0}{1067}{1037}{2494}
\Rq{xiic}{StatusHandler0}{1067}{1037}{2506}
\Rq{xiic}{SendHandler1}{1067}{1037}{2536}
\Rq{xiic}{ReceiveHandler1}{1067}{1037}{2550}
\Rq{xiic}{StatusHandler1}{1067}{1037}{2561}
\Pt{XIic_SetAddress}{1156}{1188}{2485}
\Pt{XIic_LookupConfig}{1156}{1188}{2500}
\Pt{XIic_CfgInitialize}{1156}{1188}{2512}
\Pt{XIic_Start}{1156}{1188}{2536}
\Pt{XIic_Stop}{1156}{1188}{2549}
\Pt{XIic_MasterSend}{1156}{1188}{2561}
\Pt{XIic_MasterRecv}{1156}{1188}{2577}
\Pt{XIic_SlaveInclude}{1156}{1188}{2597}
\Pt{XIic_SlaveRecv}{1156}{1188}{2611}
\Pt{XIic_SlaveSend}{1156}{1188}{2622}
\Pt{XIic_SetRecvHandler}{1156}{1188}{2636}
\Pt{XIic_SetSendHandler}{1156}{1188}{2649}
\Pt{XIic_SetStatusHandler}{1156}{1188}{2660}
\Pt{XSpi_Initialize}{1515}{1547}{2489}
\Pt{XSpi_SetOptions}{1515}{1547}{2502}
\Pt{XSpi_Start}{1515}{1547}{2514}
\Pt{XSpi_SetSlaveSelect}{1515}{1547}{2526}
\Pt{XSpi_Transfer}{1515}{1547}{2540}
\Pt{XGpio_Initialize}{1815}{1781}{2494}
\Pt{XGpio_DiscreteRead}{1815}{1781}{2504}
\Pt{XGpio_DiscreteSet}{1815}{1781}{2518}
\Pt{XGpio_DiscreteClear}{1815}{1781}{2531}
\Pt{Xil_Out32}{2046}{2013}{2496}
\Pt{Xil_In32}{2046}{2013}{2509}
% ---------- connector label
\node[lab, anchor=west] (condlab) at (638,1550) {\_camTaskMsg.id == CAM\_MSG\_ID\_DEV\_STATUS\_CHECK};
% ---------- connectors
\conns
\end{tikzpicture}
\end{document}
